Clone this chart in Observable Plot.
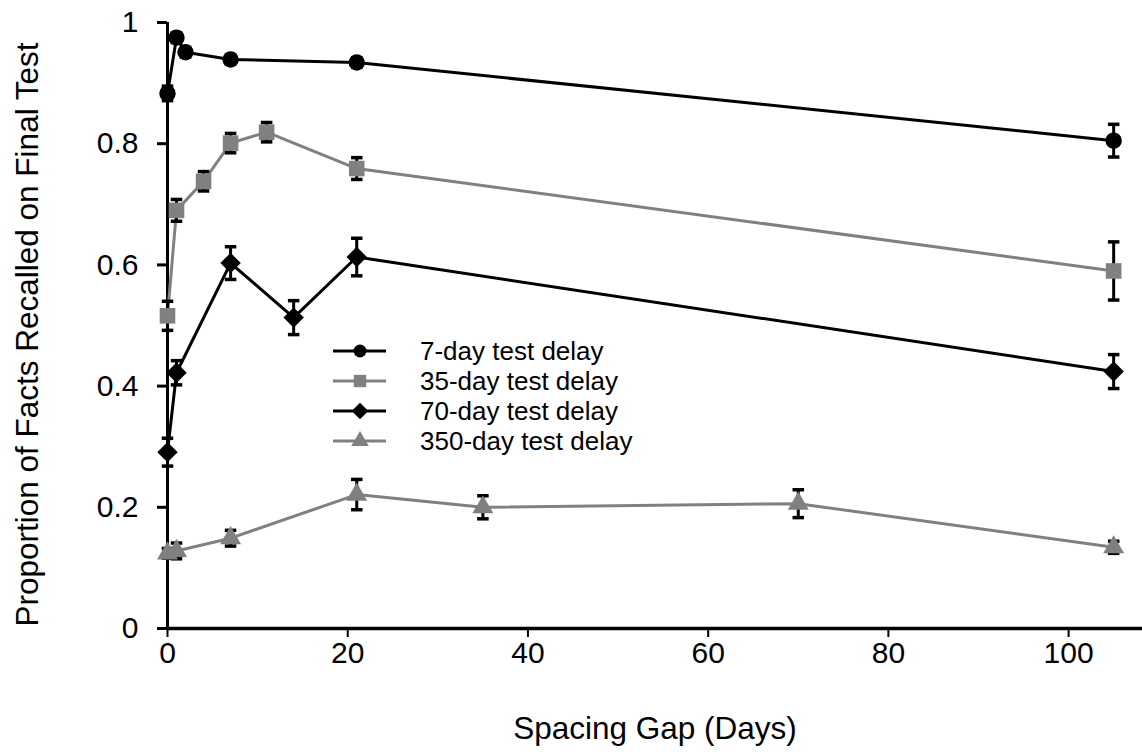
<!DOCTYPE html>
<html>
<head>
<meta charset="utf-8">
<script src="https://cdn.jsdelivr.net/npm/d3@7"></script>
<script src="https://cdn.jsdelivr.net/npm/@observablehq/plot@0.6"></script>
<style>
  html, body { margin: 0; padding: 0; background: #fff; }
  #wrap { position: relative; width: 1142px; height: 755px; overflow: hidden; background: #fff; }
  #legend { position: absolute; left: 0; top: 0; pointer-events: none; }
</style>
</head>
<body>
<div id="wrap"></div>
<script>
// ---- Data ----
const seriesNames = ["7-day test delay", "35-day test delay", "70-day test delay", "350-day test delay"];

const gaps7   = [0, 1, 2, 7, 21, 105];
const recall7 = [0.883, 0.975, 0.951, 0.939, 0.934, 0.805];
const err7    = [0.012, 0.008, 0.008, 0.008, 0.008, 0.027];

const gaps35   = [0, 1, 4, 7, 11, 21, 105];
const recall35 = [0.516, 0.690, 0.738, 0.801, 0.819, 0.759, 0.590];
const err35    = [0.024, 0.018, 0.016, 0.016, 0.016, 0.018, 0.048];

const gaps70   = [0, 1, 7, 14, 21, 105];
const recall70 = [0.291, 0.422, 0.603, 0.513, 0.613, 0.424];
const err70    = [0.023, 0.020, 0.027, 0.028, 0.031, 0.028];

const gaps350   = [0, 1, 7, 21, 35, 70, 105];
const recall350 = [0.124, 0.128, 0.149, 0.221, 0.200, 0.206, 0.134];
const err350    = [0.008, 0.013, 0.013, 0.025, 0.019, 0.023, 0.010];

const xTicks = [0, 20, 40, 60, 80, 100];
const yTicks = [0, 0.2, 0.4, 0.6, 0.8, 1];
const xTitle = "Spacing Gap (Days)";
const yTitle = "Proportion of Facts Recalled on Final Test";

// ---- Build tables ----
const table = (gaps, recall, err) => gaps.map((g, i) => ({gap: g, recall: recall[i], err: err[i], lo: recall[i] - err[i], hi: recall[i] + err[i]}));
const d7 = table(gaps7, recall7, err7);
const d35 = table(gaps35, recall35, err35);
const d70 = table(gaps70, recall70, err70);
const d350 = table(gaps350, recall350, err350);

const GRAY = "#808080";
const styles = [
  {data: d7,   color: "black", symbol: "circle",   r: 8.2},
  {data: d35,  color: GRAY,    symbol: "square",   r: 8.8},
  {data: d70,  color: "black", symbol: "diamond2", r: 9.2},
  {data: d350, color: GRAY,    symbol: "triangle", r: 7.8}
];

// custom cap symbol (horizontal bar)
const capSymbol = {draw(ctx, size) { const w = Math.sqrt(size); ctx.moveTo(-w / 2, 0); ctx.lineTo(w / 2, 0); }};

const marks = [
  Plot.axisX({ticks: xTicks, tickSize: 9, tickPadding: 4, fontSize: 30, strokeWidth: 2, label: null}),
  Plot.axisY({ticks: yTicks, tickSize: 10, tickPadding: 19, tickFormat: d => String(d), fontSize: 30, strokeWidth: 3, label: null}),
  Plot.ruleX([0], {strokeWidth: 3}),
  Plot.ruleY([0], {strokeWidth: 3.5})
];
for (const s of styles) marks.push(Plot.line(s.data, {x: "gap", y: "recall", stroke: s.color, strokeWidth: 3}));
for (const s of styles) {
  marks.push(Plot.ruleX(s.data, {x: "gap", y1: "lo", y2: "hi", stroke: "black", strokeWidth: 3}));
  marks.push(Plot.dot(s.data, {x: "gap", y: "lo", symbol: capSymbol, r: 6.5, fill: "none", stroke: "black", strokeWidth: 3.5}));
  marks.push(Plot.dot(s.data, {x: "gap", y: "hi", symbol: capSymbol, r: 6.5, fill: "none", stroke: "black", strokeWidth: 3.5}));
}
for (const s of styles) marks.push(Plot.dot(s.data, {x: "gap", y: "recall", symbol: s.symbol, r: s.r, fill: s.color, stroke: "none"}));
marks.push(Plot.text([xTitle], {frameAnchor: "bottom", dy: 110, fontSize: 31.5, text: d => d, fill: "black"}));
marks.push(Plot.text([yTitle], {frameAnchor: "left", textAnchor: "middle", dx: -140, dy: 9, rotate: -90, fontSize: 31.5, text: d => d, fill: "black"}));

const chart = Plot.plot({
  width: 1142,
  height: 755,
  marginTop: 22,
  marginBottom: 127,
  marginLeft: 167,
  marginRight: 0,
  x: {domain: [0, 108.2]},
  y: {domain: [0, 1]},
  style: {fontFamily: "'Liberation Sans', Arial, sans-serif", color: "black", background: "white", overflow: "visible"},
  marks
});
document.getElementById("wrap").appendChild(chart);

// ---- Legend overlay ----
const legendSymbols = [
  {type: d3.symbolCircle, r: 6.5},
  {type: d3.symbolSquare, r: 7},
  {type: d3.symbolDiamond2, r: 7.5},
  {type: d3.symbolTriangle, r: 6.5}
];
const lg = d3.select("#wrap").append("svg").attr("id", "legend").attr("width", 1142).attr("height", 755)
  .style("font-family", "'Liberation Sans', Arial, sans-serif");
seriesNames.forEach((name, i) => {
  const y = 351 + i * 30;
  const g = lg.append("g").attr("transform", `translate(0,${y})`);
  g.append("line").attr("x1", 333).attr("x2", 386).attr("y1", 0).attr("y2", 0).attr("stroke", styles[i].color).attr("stroke-width", 3);
  const sym = legendSymbols[i];
  g.append("path").attr("transform", "translate(360,0)")
    .attr("d", d3.symbol().type(sym.type).size(Math.PI * sym.r * sym.r)())
    .attr("fill", styles[i].color);
  g.append("text").attr("x", 420).attr("y", 0).attr("dy", "0.35em").attr("font-size", 26).attr("fill", "black").text(name);
});
</script>
</body>
</html>
